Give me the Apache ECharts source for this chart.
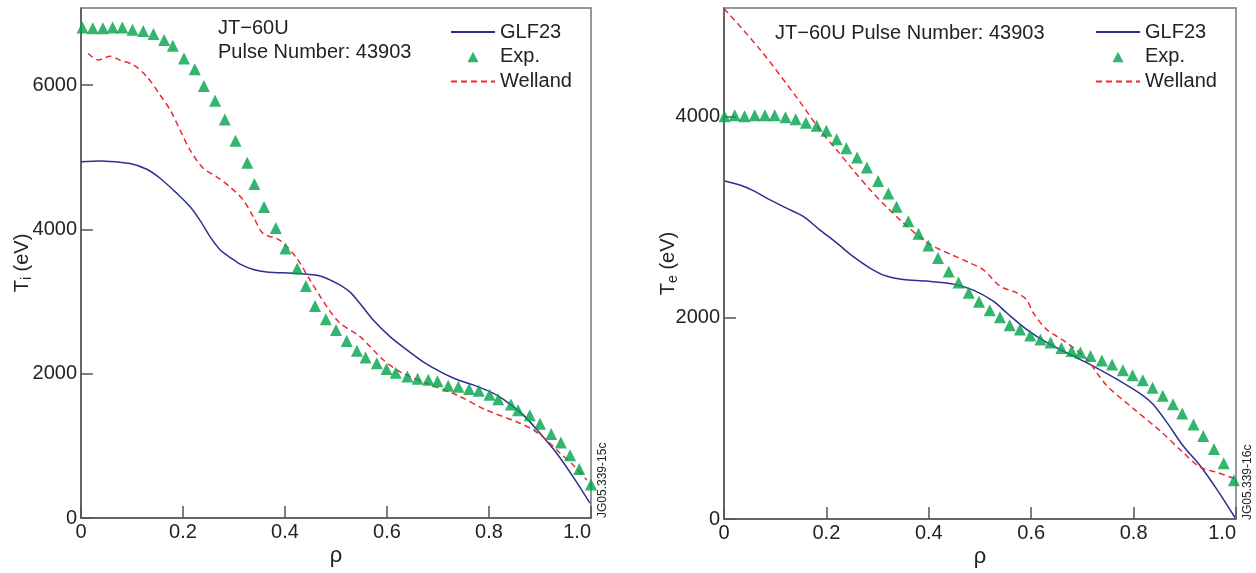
<!DOCTYPE html>
<html><head><meta charset="utf-8">
<script src="https://cdn.jsdelivr.net/npm/echarts@6/dist/echarts.min.js"></script>
<style>html,body{margin:0;padding:0;background:#fff}#c{width:1256px;height:573px}</style>
</head><body><div id="c"></div><script>
// ---- Left panel: ion temperature ----
var tiExpRho = [0.003,0.023,0.043,0.062,0.081,0.101,0.122,0.142,0.163,0.180,0.202,0.223,0.241,0.263,0.282,0.303,0.326,0.340,0.359,0.382,0.401,0.424,0.441,0.459,0.480,0.500,0.521,0.541,0.558,0.580,0.599,0.617,0.640,0.660,0.681,0.699,0.720,0.740,0.761,0.780,0.801,0.818,0.843,0.857,0.880,0.900,0.922,0.941,0.959,0.977,1.0];
var tiExp = [6800,6790,6790,6800,6800,6770,6750,6710,6625,6545,6370,6220,5990,5785,5525,5230,4925,4630,4310,4020,3735,3460,3215,2940,2755,2605,2455,2320,2225,2145,2065,2015,1960,1930,1915,1895,1835,1820,1790,1765,1710,1645,1575,1495,1425,1305,1165,1045,870,680,465];
var tiGlfRho = [0,0.037,0.096,0.129,0.155,0.188,0.214,0.233,0.253,0.273,0.295,0.312,0.338,0.364,0.423,0.469,0.501,0.527,0.547,0.573,0.606,0.639,0.671,0.704,0.737,0.769,0.808,0.835,0.867,0.9,0.933,0.965,0.998];
var tiGlf = [4940,4950,4915,4835,4710,4500,4315,4130,3900,3715,3600,3520,3445,3410,3390,3355,3255,3135,2975,2745,2515,2330,2165,2030,1920,1845,1730,1610,1430,1175,895,570,205];
var tiWelRho = [0.014,0.034,0.057,0.076,0.103,0.129,0.155,0.175,0.194,0.214,0.240,0.266,0.292,0.318,0.338,0.357,0.390,0.423,0.449,0.482,0.508,0.547,0.593,0.625,0.678,0.737,0.795,0.854,0.887,0.913,0.939,0.965,0.992];
var tiWel = [6440,6350,6400,6350,6280,6120,5865,5655,5380,5100,4845,4730,4590,4410,4175,3945,3850,3600,3300,2930,2700,2515,2190,2030,1865,1705,1495,1335,1220,1080,900,735,525];

// ---- Right panel: electron temperature ----
var teExpRho = [0.001,0.021,0.040,0.060,0.080,0.099,0.120,0.140,0.160,0.181,0.200,0.220,0.239,0.260,0.279,0.301,0.321,0.337,0.360,0.380,0.399,0.418,0.439,0.458,0.478,0.498,0.519,0.539,0.558,0.578,0.598,0.618,0.638,0.659,0.679,0.696,0.716,0.738,0.758,0.779,0.798,0.818,0.837,0.857,0.877,0.895,0.917,0.936,0.957,0.976,0.996];
var teExp = [4005,4015,4005,4015,4015,4015,3995,3975,3940,3910,3860,3775,3685,3595,3495,3360,3235,3105,2960,2835,2720,2595,2460,2350,2250,2160,2075,2005,1925,1885,1825,1785,1755,1700,1670,1655,1620,1575,1535,1480,1430,1380,1305,1225,1140,1050,940,825,695,555,385];
var teGlfRho = [0.001,0.031,0.057,0.089,0.122,0.154,0.187,0.220,0.252,0.285,0.317,0.350,0.396,0.448,0.487,0.526,0.552,0.591,0.630,0.682,0.721,0.767,0.819,0.838,0.865,0.897,0.930,0.962,0.998];
var teGlf = [3360,3320,3265,3175,3090,3010,2875,2745,2610,2495,2415,2380,2365,2335,2275,2165,2050,1885,1755,1620,1520,1390,1225,1140,960,725,530,300,15];
var teWelRho = [0,0.07,0.145,0.187,0.220,0.252,0.285,0.317,0.350,0.389,0.415,0.448,0.474,0.506,0.539,0.571,0.591,0.604,0.630,0.669,0.708,0.747,0.799,0.851,0.897,0.930,0.962,0.998];
var teWel = [5075,4670,4170,3870,3670,3470,3275,3105,2945,2775,2695,2620,2560,2480,2315,2250,2180,2050,1885,1755,1590,1330,1100,880,660,515,465,400];

var seriesNames = ['GLF23','Exp.','Welland'];
var yTicks = [0,2000,4000,6000];

function pairs(xs, ys){ return xs.map(function(x,i){ return [x, ys[i]]; }); }

var FONT = 'Liberation Sans, Arial, Helvetica, sans-serif';
var TXT = '#222';
var BLUE = '#2b3090', GREEN = '#00a14b', RED = '#ee2a2e';
// legend triangle icon: small triangle centred in a 44x12 box
var TRI_ICON = 'path://M0,0L0,0M16.5,11.5L22,1L27.5,11.5ZM44,12L44,12';

function xAxis(gi){
  return {
    gridIndex: gi, type:'value', min:0, max:1, interval:0.2,
    name:'ρ', nameLocation:'middle', nameGap:27, nameMoveOverlap:false,
    nameTextStyle:{fontSize:22, color:TXT, fontFamily:FONT},
    axisLine:{show:true, lineStyle:{color:'#555', width:1.5}},
    axisTick:{show:true, inside:true, length:12, lineStyle:{color:'#555', width:1.5}},
    axisLabel:{fontSize:20, color:TXT, fontFamily:FONT, margin:4, alignMaxLabel:'right',
      formatter:function(v){ return v===0 ? '0' : v.toFixed(1); }},
    splitLine:{show:false}
  };
}
function yAxis(gi, max, sub, gap){
  return {
    gridIndex: gi, type:'value', min:0, max:max, interval:2000,
    name:'T{s|' + sub + '} (eV)', nameLocation:'middle', nameGap:gap, nameMoveOverlap:false,
    nameTextStyle:{fontSize:20, color:TXT, fontFamily:FONT, lineHeight:24,
      rich:{s:{fontSize:14, color:TXT, fontFamily:FONT, verticalAlign:'bottom', lineHeight:24}}},
    axisLine:{show:true, lineStyle:{color:'#555', width:1.5}},
    axisTick:{show:true, inside:true, length:12, lineStyle:{color:'#555', width:1.5}},
    axisLabel:{fontSize:20, color:TXT, fontFamily:FONT, margin:4, showMaxLabel:false,
      formatter:function(v){ return yTicks.indexOf(v) >= 0 ? String(v) : ''; }},
    splitLine:{show:false}
  };
}
function lineSeries(name, gi, data, color, dashed){
  return {name:name, type:'line', xAxisIndex:gi, yAxisIndex:gi, data:data,
    smooth:0.3, symbol:'none', z:2,
    lineStyle:{color:color, width:1.5, type: dashed ? [6,4] : 'solid'},
    itemStyle:{color:color}};
}
function expSeries(gi, data){
  return {name:'Exp.', type:'scatter', xAxisIndex:gi, yAxisIndex:gi, data:data,
    symbol:'triangle', symbolSize:12, z:5, itemStyle:{color:GREEN}};
}
function legend(left){
  return {left:left, top:17, orient:'vertical',
    data:[
      {name:'GLF23', itemStyle:{opacity:0}},
      {name:'Exp.', icon:TRI_ICON},
      {name:'Welland', itemStyle:{opacity:0}}
    ],
    itemWidth:44, itemHeight:12, itemGap:4.8, selectedMode:false,
    textStyle:{fontSize:20, color:TXT, fontFamily:FONT, lineHeight:20}};
}

var chart = echarts.init(document.getElementById('c'), null, {renderer:'canvas'});
chart.setOption({
  backgroundColor:'#fff',
  animation:false,
  title:[
    {text:'JT−60U\nPulse Number: 43903', left:213, top:11,
      textStyle:{fontSize:20, fontWeight:'normal', color:TXT, fontFamily:FONT, lineHeight:24}},
    {text:'JT−60U Pulse Number: 43903', left:770, top:16,
      textStyle:{fontSize:20, fontWeight:'normal', color:TXT, fontFamily:FONT, lineHeight:24}}
  ],
  legend:[legend(445), legend(1090)],
  grid:[
    {left:81, top:8, width:510, height:510, show:true, borderColor:'#777', borderWidth:1.5, backgroundColor:'transparent'},
    {left:724, top:8, width:512, height:512, show:true, borderColor:'#777', borderWidth:1.5, backgroundColor:'transparent'}
  ],
  xAxis:[xAxis(0), xAxis(1)],
  yAxis:[yAxis(0, 7070, 'i', 47), yAxis(1, 5080, 'e', 44)],
  graphic:[
    {type:'text', x:603, y:518, rotation:Math.PI/2,
      style:{text:'JG05.339-15c', fontSize:12, fill:TXT, fontFamily:FONT, textAlign:'left', textVerticalAlign:'middle'}},
    {type:'text', x:1248, y:520, rotation:Math.PI/2,
      style:{text:'JG05.339-16c', fontSize:12, fill:TXT, fontFamily:FONT, textAlign:'left', textVerticalAlign:'middle'}}
  ],
  series:[
    lineSeries('GLF23', 0, pairs(tiGlfRho, tiGlf), BLUE, false),
    lineSeries('Welland', 0, pairs(tiWelRho, tiWel), RED, true),
    expSeries(0, pairs(tiExpRho, tiExp)),
    lineSeries('GLF23', 1, pairs(teGlfRho, teGlf), BLUE, false),
    lineSeries('Welland', 1, pairs(teWelRho, teWel), RED, true),
    expSeries(1, pairs(teExpRho, teExp))
  ]
});
</script></body></html>
